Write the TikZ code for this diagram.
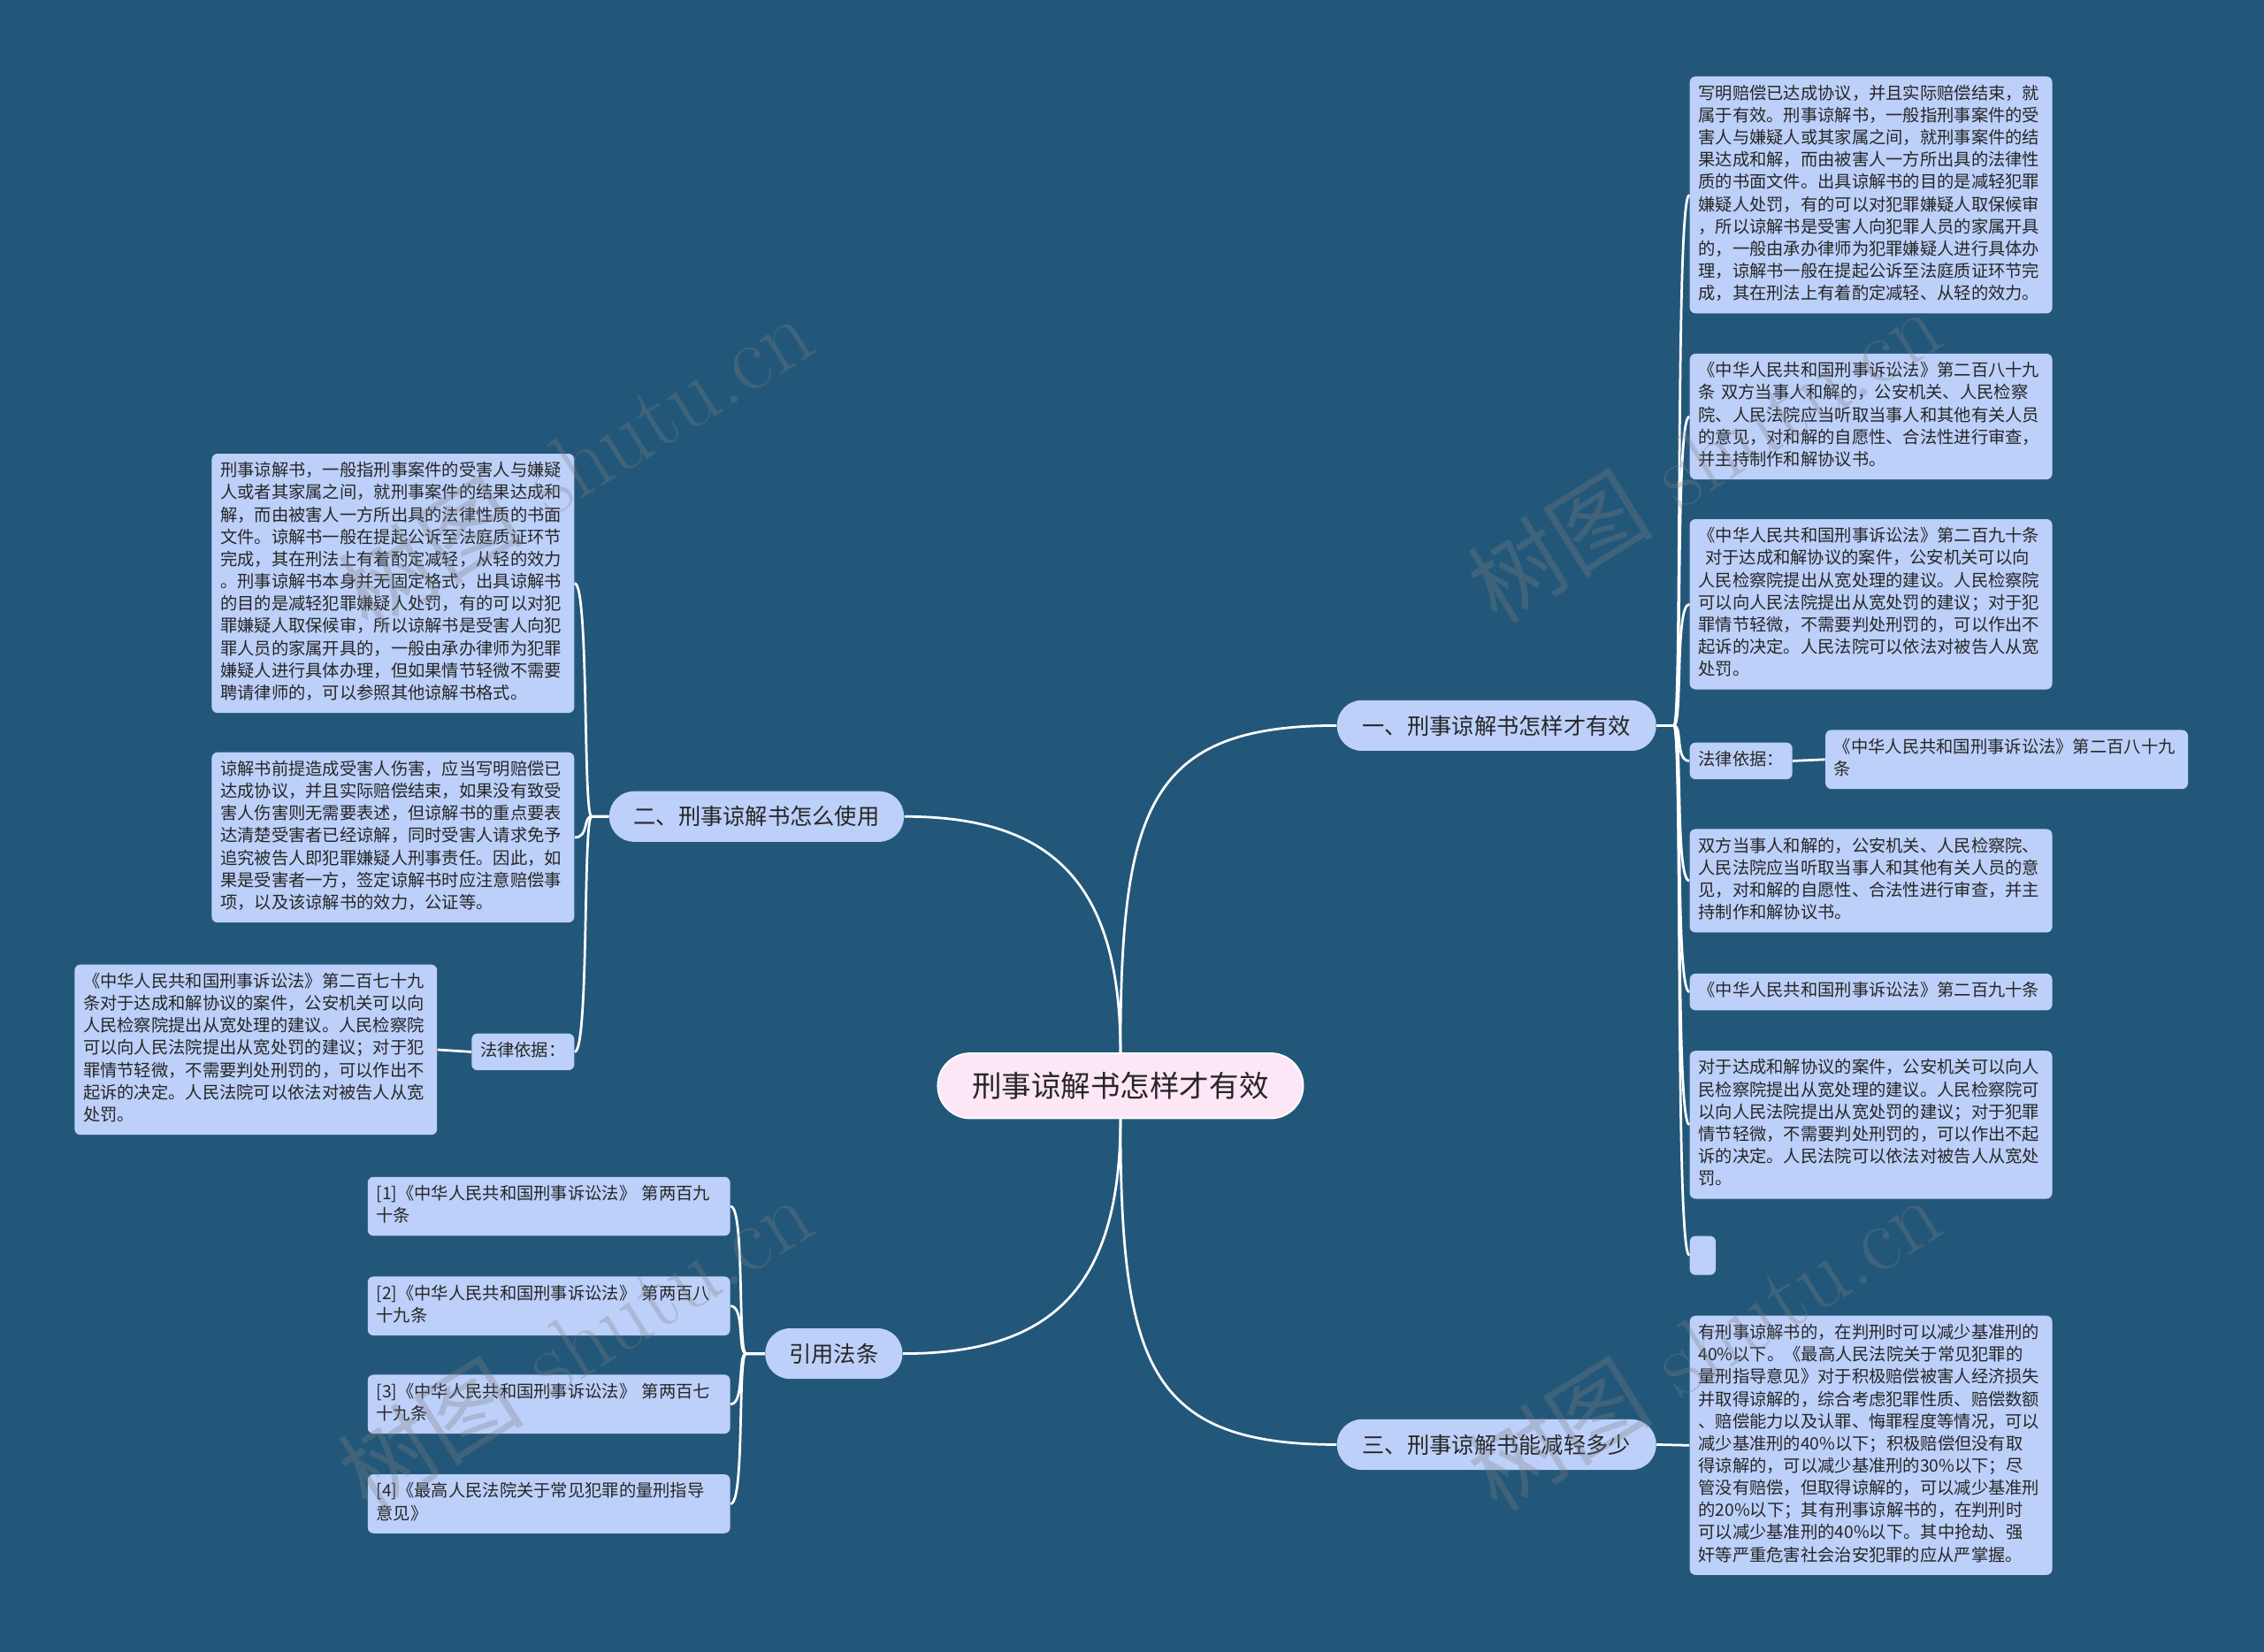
\documentclass[tikz,border=0pt]{standalone}
\usepackage{fontspec}
\newfontfamily\cjk{Noto Sans CJK SC}
\definecolor{bgblue}{HTML}{22577A}
\definecolor{leafblue}{HTML}{BDD0F9}
\definecolor{rootpink}{HTML}{FDE6F6}
\definecolor{inktext}{HTML}{262626}

\begin{document}
\begin{tikzpicture}[x=0.025cm, y=-0.025cm,
    leaf/.style={fill=leafblue, rounded corners=0.1cm, text=inktext,
        font=\cjk\fontsize{8.4}{10.96}\selectfont, align=left, text width=5.975cm,
        inner xsep=0.15cm, inner ysep=0.125cm,
        execute at begin node=\noindent\strut, execute at end node=\strut},
    tag/.style={fill=leafblue, rounded corners=0.1cm, text=inktext,
        font=\cjk\fontsize{8.4}{10.96}\selectfont, inner xsep=0.15cm, inner ysep=0.125cm,
        execute at begin node=\strut},
    branch/.style={fill=leafblue, rounded corners=0.43cm, text=inktext,
        font=\cjk\fontsize{11}{13}\selectfont, minimum height=0.875cm},
    root/.style={fill=rootpink, draw=white, line width=0.8pt, rounded corners=0.56cm,
        text=inktext, font=\cjk\fontsize{14.6}{18}\selectfont,
        minimum height=1.125cm, minimum width=6.325cm},
    link/.style={draw=white, line width=1.2pt},
    wmark/.style={rotate=32, text=gray, text opacity=0.3,
        font=\fontsize{46}{50}\selectfont}]

    % Sfondo
    \useasboundingbox (0,0) rectangle (1568,1144);
    \fill[bgblue] (0,0) rectangle (1568,1144);

    % Centro e rami
    \node[root] (ctr) at (776,752) {刑事谅解书怎样才有效};
    \node[branch, minimum width=5.525cm] (b1) at (1036.5,502.5) {一、刑事谅解书怎样才有效};
    \node[branch, minimum width=5.525cm] (b3) at (1036.5,1000.5) {三、刑事谅解书能减轻多少};
    \node[branch, minimum width=5.1cm] (b2) at (524,565.5) {二、刑事谅解书怎么使用};
    \node[branch, minimum width=2.375cm] (b4) at (577.5,937.5) {引用法条};

    \draw[link] (ctr.north) .. controls +(0,-170) and +(-130,0) .. (b1.west);
    \draw[link] (ctr.south) .. controls +(0,170) and +(-130,0) .. (b3.west);
    \draw[link] (ctr.north) .. controls +(0,-120) and +(100,0) .. (b2.east);
    \draw[link] (ctr.south) .. controls +(0,120) and +(100,0) .. (b4.east);

    % Ramo uno
    \node[leaf, anchor=west] (r1) at (1170,135) {写明赔偿已达成协议，并且实际赔偿结束，就\\
        属于有效。刑事谅解书，一般指刑事案件的受\\
        害人与嫌疑人或其家属之间，就刑事案件的结\\
        果达成和解，而由被害人一方所出具的法律性\\
        质的书面文件。出具谅解书的目的是减轻犯罪\\
        嫌疑人处罚，有的可以对犯罪嫌疑人取保候审\\
        ，所以谅解书是受害人向犯罪人员的家属开具\\
        的，一般由承办律师为犯罪嫌疑人进行具体办\\
        理，谅解书一般在提起公诉至法庭质证环节完\\
        成，其在刑法上有着酌定减轻、从轻的效力。};
    \node[leaf, anchor=west] (r2) at (1170,288.5) {《中华人民共和国刑事诉讼法》第二百八十九\\
        条~双方当事人和解的，公安机关、人民检察\\
        院、人民法院应当听取当事人和其他有关人员\\
        的意见，对和解的自愿性、合法性进行审查，\\
        并主持制作和解协议书。};
    \node[leaf, anchor=west] (r3) at (1170,418.5) {《中华人民共和国刑事诉讼法》第二百九十条\\
        \hspace*{0.4em}对于达成和解协议的案件，公安机关可以向\\
        人民检察院提出从宽处理的建议。人民检察院\\
        可以向人民法院提出从宽处罚的建议；对于犯\\
        罪情节轻微，不需要判处刑罚的，可以作出不\\
        起诉的决定。人民法院可以依法对被告人从宽\\
        处罚。};
    \node[tag, anchor=west] (r4) at (1170,527) {法律依据：};
    \node[leaf, anchor=west] (r4c) at (1264,526) {《中华人民共和国刑事诉讼法》第二百八十九\\
        条};
    \node[leaf, anchor=west] (r5) at (1170,610) {双方当事人和解的，公安机关、人民检察院、\\
        人民法院应当听取当事人和其他有关人员的意\\
        见，对和解的自愿性、合法性进行审查，并主\\
        持制作和解协议书。};
    \node[leaf, anchor=west] (r6) at (1170,687) {《中华人民共和国刑事诉讼法》第二百九十条};
    \node[leaf, anchor=west] (r7) at (1170,779) {对于达成和解协议的案件，公安机关可以向人\\
        民检察院提出从宽处理的建议。人民检察院可\\
        以向人民法院提出从宽处罚的建议；对于犯罪\\
        情节轻微，不需要判处刑罚的，可以作出不起\\
        诉的决定。人民法院可以依法对被告人从宽处\\
        罚。};
    \node[fill=leafblue, rounded corners=0.1cm, minimum width=0.45cm, minimum height=0.675cm,
        inner sep=0pt, anchor=west] (r8) at (1170,869.5) {};

    \foreach \leafname in {r1,r2,r3,r4,r5,r6,r7,r8}
        \draw[link] (b1.east) -- ++(12,0) .. controls +(6,0) and +(-10,0) .. (\leafname.west);
    \draw[link] (r4.east) -- (r4c.west);

    % Ramo tre
    \node[leaf, anchor=west] (r9) at (1170,1001) {有刑事谅解书的，在判刑时可以减少基准刑的\\
        40\%以下。《最高人民法院关于常见犯罪的\\
        量刑指导意见》对于积极赔偿被害人经济损失\\
        并取得谅解的，综合考虑犯罪性质、赔偿数额\\
        、赔偿能力以及认罪、悔罪程度等情况，可以\\
        减少基准刑的40\%以下；积极赔偿但没有取\\
        得谅解的，可以减少基准刑的30\%以下；尽\\
        管没有赔偿，但取得谅解的，可以减少基准刑\\
        的20\%以下；其有刑事谅解书的，在判刑时\\
        可以减少基准刑的40\%以下。其中抢劫、强\\
        奸等严重危害社会治安犯罪的应从严掌握。};
    \draw[link] (b3.east) -- (r9.west);

    % Ramo due
    \node[leaf, anchor=east] (l1) at (398,404) {刑事谅解书，一般指刑事案件的受害人与嫌疑\\
        人或者其家属之间，就刑事案件的结果达成和\\
        解，而由被害人一方所出具的法律性质的书面\\
        文件。谅解书一般在提起公诉至法庭质证环节\\
        完成，其在刑法上有着酌定减轻，从轻的效力\\
        。刑事谅解书本身并无固定格式，出具谅解书\\
        的目的是减轻犯罪嫌疑人处罚，有的可以对犯\\
        罪嫌疑人取保候审，所以谅解书是受害人向犯\\
        罪人员的家属开具的，一般由承办律师为犯罪\\
        嫌疑人进行具体办理，但如果情节轻微不需要\\
        聘请律师的，可以参照其他谅解书格式。};
    \node[leaf, anchor=east] (l2) at (398,580) {谅解书前提造成受害人伤害，应当写明赔偿已\\
        达成协议，并且实际赔偿结束，如果没有致受\\
        害人伤害则无需要表述，但谅解书的重点要表\\
        达清楚受害者已经谅解，同时受害人请求免予\\
        追究被告人即犯罪嫌疑人刑事责任。因此，如\\
        果是受害者一方，签定谅解书时应注意赔偿事\\
        项，以及该谅解书的效力，公证等。};
    \node[tag, anchor=east] (l3) at (398,728.5) {法律依据：};
    \node[leaf, anchor=east] (l3c) at (303,727) {《中华人民共和国刑事诉讼法》第二百七十九\\
        条对于达成和解协议的案件，公安机关可以向\\
        人民检察院提出从宽处理的建议。人民检察院\\
        可以向人民法院提出从宽处罚的建议；对于犯\\
        罪情节轻微，不需要判处刑罚的，可以作出不\\
        起诉的决定。人民法院可以依法对被告人从宽\\
        处罚。};

    \foreach \leafname in {l1,l2,l3}
        \draw[link] (b2.west) -- ++(-12,0) .. controls +(-6,0) and +(10,0) .. (\leafname.east);
    \draw[link] (l3.west) -- (l3c.east);

    % Riferimenti
    \node[leaf, anchor=east] (c1) at (506,835.5) {[1]《中华人民共和国刑事诉讼法》~第两百九\\十条};
    \node[leaf, anchor=east] (c2) at (506,904.5) {[2]《中华人民共和国刑事诉讼法》~第两百八\\十九条};
    \node[leaf, anchor=east] (c3) at (506,972.5) {[3]《中华人民共和国刑事诉讼法》~第两百七\\十九条};
    \node[leaf, anchor=east] (c4) at (506,1041.5) {[4]《最高人民法院关于常见犯罪的量刑指导\\意见》};

    \foreach \leafname in {c1,c2,c3,c4}
        \draw[link] (b4.west) -- ++(-13,0) .. controls +(-6,0) and +(10,0) .. (\leafname.east);

    % Filigrana
    \node[wmark] (w1) at (398,320) {{\cjk 树图} shutu.cn};
    \node[wmark] (w2) at (1180,315) {{\cjk 树图} shutu.cn};
    \node[wmark] (w3) at (398,930) {{\cjk 树图} shutu.cn};
    \node[wmark] (w4) at (1180,930) {{\cjk 树图} shutu.cn};
\end{tikzpicture}
\end{document}
